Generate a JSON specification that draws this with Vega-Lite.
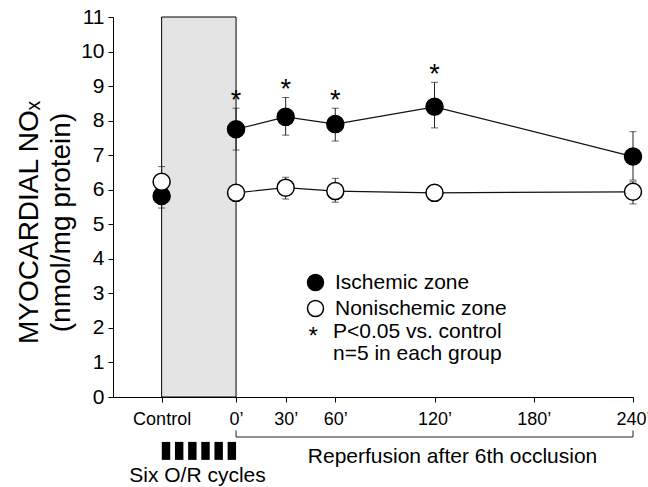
{
  "$schema": "https://vega.github.io/schema/vega-lite/v6.json",
  "width": 520,
  "height": 380,
  "autosize": {"type": "none"},
  "padding": {"left": 113, "top": 17, "right": 15, "bottom": 90},
  "background": "white",
  "config": {
    "view": {"stroke": null},
    "font": "Liberation Sans",
    "axis": {"domainColor": "black", "tickColor": "black", "labelColor": "black", "titleColor": "black", "grid": false, "domainWidth": 1, "tickWidth": 1},
    "legend": {"orient": "none", "legendX": 192, "legendY": 255, "labelFontSize": 21, "labelColor": "black", "labelFont": "Liberation Sans", "labelLimit": 400, "symbolSize": 256, "symbolStrokeColor": "black", "symbolStrokeWidth": 1.5, "symbolType": "circle", "rowPadding": 3, "labelOffset": 9, "padding": 0, "offset": 0}
  },
  "datasets": {
    "main": [
      {"t": -45, "series": "Ischemic zone", "v": 5.82, "lo": 5.47, "hi": 6.17},
      {"t": 0, "series": "Ischemic zone", "v": 7.75, "lo": 7.15, "hi": 8.36},
      {"t": 30, "series": "Ischemic zone", "v": 8.11, "lo": 7.58, "hi": 8.67},
      {"t": 60, "series": "Ischemic zone", "v": 7.9, "lo": 7.41, "hi": 8.36},
      {"t": 120, "series": "Ischemic zone", "v": 8.4, "lo": 7.79, "hi": 9.11},
      {"t": 240, "series": "Ischemic zone", "v": 6.96, "lo": 6.28, "hi": 7.68},
      {"t": -45, "series": "Nonischemic zone", "v": 6.23, "lo": 5.85, "hi": 6.67},
      {"t": 0, "series": "Nonischemic zone", "v": 5.91, "lo": 5.8, "hi": 6.02},
      {"t": 30, "series": "Nonischemic zone", "v": 6.06, "lo": 5.73, "hi": 6.36},
      {"t": 60, "series": "Nonischemic zone", "v": 5.96, "lo": 5.64, "hi": 6.33},
      {"t": 120, "series": "Nonischemic zone", "v": 5.91, "lo": 5.85, "hi": 5.97},
      {"t": 240, "series": "Nonischemic zone", "v": 5.94, "lo": 5.59, "hi": 6.23}
    ],
    "stars": [
      {"t": 0, "v": 8.56},
      {"t": 30, "v": 8.9},
      {"t": 60, "v": 8.57},
      {"t": 120, "v": 9.33}
    ],
    "stripes": [
      {"t": -44.9, "t2": -39.8, "v": -1.3, "v2": -1.82},
      {"t": -36.94, "t2": -31.84, "v": -1.3, "v2": -1.82},
      {"t": -28.98, "t2": -23.88, "v": -1.3, "v2": -1.82},
      {"t": -21.02, "t2": -15.92, "v": -1.3, "v2": -1.82},
      {"t": -13.06, "t2": -7.96, "v": -1.3, "v2": -1.82},
      {"t": -5.1, "t2": 0, "v": -1.3, "v2": -1.82}
    ]
  },
  "encoding": {
    "x": {
      "field": "t", "type": "quantitative",
      "scale": {"domain": [-74.4, 240], "nice": false, "zero": false},
      "axis": {
        "values": [-45, 0, 30, 60, 120, 180, 240],
        "labelExpr": "datum.value == -45 ? 'Control' : datum.value + '’'",
        "title": null, "tickSize": 5, "labelPadding": 8, "labelFontSize": 18,
        "labelFlush": false, "labelOverlap": false, "labelBound": false
      }
    },
    "y": {
      "field": "v", "type": "quantitative",
      "scale": {"domain": [0, 11], "nice": false, "zero": false},
      "axis": {
        "values": [0, 1, 2, 3, 4, 5, 6, 7, 8, 9, 10, 11],
        "title": ["MYOCARDIAL NOₓ", "(nmol/mg protein)"],
        "titleFontSize": 28, "titleFontWeight": "normal", "titleAngle": 270,
        "titleX": -84, "titleY": 205, "titleAlign": "center", "titleBaseline": "middle", "titleLineHeight": 32,
        "tickSize": 5, "labelPadding": 4, "labelFontSize": 21
      }
    }
  },
  "layer": [
    {
      "data": {"values": [{"t": -45, "t2": 0, "v": 0, "v2": 11}]},
      "mark": {"type": "rect", "fill": "#e4e4e4", "stroke": "black", "strokeWidth": 1},
      "encoding": {"x2": {"field": "t2"}, "y2": {"field": "v2"}}
    },
    {
      "data": {"name": "main"},
      "transform": [{"filter": "datum.t >= 0"}],
      "mark": {"type": "line", "color": "#111", "strokeWidth": 1.2},
      "encoding": {"detail": {"field": "series"}}
    },
    {
      "data": {"name": "main"},
      "mark": {"type": "rule", "color": "#222", "strokeWidth": 1},
      "encoding": {"y": {"field": "lo", "type": "quantitative"}, "y2": {"field": "hi"}}
    },
    {
      "data": {"name": "main"},
      "mark": {"type": "tick", "orient": "horizontal", "size": 7, "thickness": 1, "color": "#222"},
      "encoding": {"y": {"field": "hi", "type": "quantitative"}}
    },
    {
      "data": {"name": "main"},
      "mark": {"type": "tick", "orient": "horizontal", "size": 7, "thickness": 1, "color": "#222"},
      "encoding": {"y": {"field": "lo", "type": "quantitative"}}
    },
    {
      "data": {"name": "main"},
      "mark": {"type": "point", "shape": "circle", "filled": true, "size": 290, "stroke": "black", "strokeWidth": 1.5, "opacity": 1},
      "encoding": {
        "fill": {
          "field": "series", "type": "nominal",
          "scale": {"domain": ["Ischemic zone", "Nonischemic zone"], "range": ["black", "white"]},
          "legend": {"title": null}
        }
      }
    },
    {
      "data": {"name": "stars"},
      "mark": {"type": "text", "text": "*", "fontSize": 27, "align": "center", "baseline": "middle", "color": "black"}
    },
    {
      "data": {"values": [{"t": 46.6, "v": 1.74}]},
      "mark": {"type": "text", "text": "*", "fontSize": 24, "align": "center", "baseline": "middle", "color": "black"}
    },
    {
      "data": {"values": [
        {"t": 58.6, "v": 1.88, "label": "P<0.05 vs. control"},
        {"t": 58.6, "v": 1.25, "label": "n=5 in each group"}
      ]},
      "mark": {"type": "text", "fontSize": 21, "align": "left", "baseline": "middle", "color": "black"},
      "encoding": {"text": {"field": "label"}}
    },
    {
      "data": {"values": [
        {"t": -23.3, "v": -2.29, "label": "Six O/R cycles"},
        {"t": 130.9, "v": -1.74, "label": "Reperfusion after 6th occlusion"}
      ]},
      "mark": {"type": "text", "fontSize": 21, "align": "center", "baseline": "middle", "color": "black"},
      "encoding": {"text": {"field": "label"}}
    },
    {
      "data": {"name": "stripes"},
      "mark": {"type": "rect", "color": "black"},
      "encoding": {"x2": {"field": "t2"}, "y2": {"field": "v2"}}
    },
    {
      "data": {"values": [{"t": 0, "t2": 240, "v": -1.158}]},
      "mark": {"type": "rule", "color": "#222", "strokeWidth": 1},
      "encoding": {"x2": {"field": "t2"}}
    },
    {
      "data": {"values": [{"t": 0, "v": -0.97, "v2": -1.158}, {"t": 240, "v": -0.97, "v2": -1.158}]},
      "mark": {"type": "rule", "color": "#222", "strokeWidth": 1},
      "encoding": {"y2": {"field": "v2"}}
    }
  ]
}
